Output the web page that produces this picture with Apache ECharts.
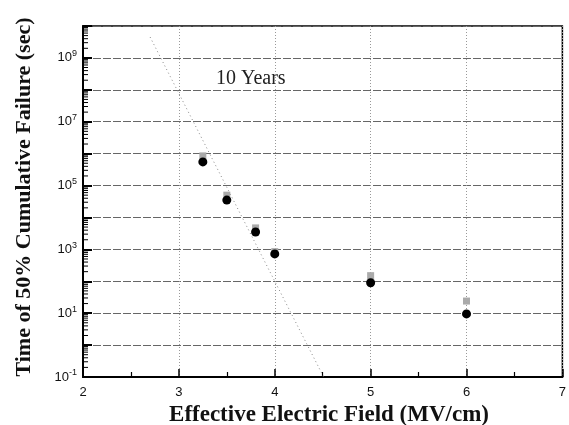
<!DOCTYPE html>
<html>
<head>
<meta charset="utf-8">
<script src="https://cdn.jsdelivr.net/npm/echarts@6/dist/echarts.min.js"></script>
<style>
  html, body { margin: 0; padding: 0; background: #fff; }
  #chart { width: 569px; height: 425px; }
</style>
</head>
<body>
<div id="chart"></div>
<script>
// Electric field (MV/cm) of each stress condition
var fields = [3.25, 3.5, 3.8, 4.0, 5.0, 6.0];
// Median time to failure (s), filled markers
var t50Black = [5.5e5, 3.5e4, 3.5e3, 7.2e2, 90, 9.5];
// Median time to failure (s), grey markers
var t50Grey = [8.5e5, 5.0e4, 4.7e3, 8.5e2, 150, 24];
// Extrapolation line end points [field, time]
var guideField = [2.70, 4.51];
var guideTime = [4.5e9, 0.1];
// Tick labels
var xTicks = [2, 3, 4, 5, 6, 7];
var yExponentsLabelled = [-1, 1, 3, 5, 7, 9];

var serif = '"Liberation Serif", "Times New Roman", serif';
var sans = '"Liberation Sans", Arial, sans-serif';

// the time axis is a decade scale: plot log10(seconds)
function lg(v) { return Math.log10(v); }
function zipLog(xs, ys) {
  return xs.map(function (x, i) { return [x, lg(ys[i])]; });
}

// left-axis minor ticks at 2..9 × each decade
var minorTickVals = [];
for (var d = -1; d <= 9; d++) {
  for (var m = 2; m <= 9; m++) minorTickVals.push([2, lg(m * Math.pow(10, d))]);
}

var chart = echarts.init(document.getElementById('chart'), null, { renderer: 'canvas' });

chart.setOption({
  backgroundColor: '#fff',
  animation: false,
  grid: {
    left: 83, right: 6, top: 26, bottom: 48,
    show: true, borderColor: '#000', borderWidth: 1.5, backgroundColor: 'transparent'
  },
  xAxis: {
    type: 'value', min: 2, max: 7, interval: 1,
    axisLine: { onZero: false, lineStyle: { color: '#000', width: 2 } },
    axisTick: { inside: true, length: 8, lineStyle: { color: '#000', width: 1.5 } },
    minorTick: { show: true, splitNumber: 2, length: 5, lineStyle: { color: '#000', width: 1.2 } },
    axisLabel: {
      margin: 9, fontFamily: sans, fontSize: 13, color: '#111',
      formatter: function (v) { return xTicks.indexOf(v) >= 0 ? String(v) : ''; }
    },
    splitLine: { show: true, lineStyle: { color: '#999', type: [1, 2], width: 1 } }
  },
  yAxis: {
    type: 'value', min: -1, max: 10, interval: 1,
    axisLine: { onZero: false, lineStyle: { color: '#000', width: 2 } },
    axisTick: { inside: true, length: 9, lineStyle: { color: '#000', width: 2 } },
    axisLabel: {
      margin: 6, fontFamily: sans, color: '#111',
      formatter: function (v) {
        if (yExponentsLabelled.indexOf(v) < 0) return '';
        return '{b|10}{s|' + v + '}';
      },
      rich: {
        b: { fontFamily: sans, fontSize: 13, color: '#111' },
        s: { fontFamily: sans, fontSize: 9, color: '#111', verticalAlign: 'bottom', padding: [0, 0, 8, 0] }
      }
    },
    splitLine: { show: true, lineStyle: { color: '#666', type: [8, 2], width: 1 } }
  },
  graphic: [
    {
      type: 'text', left: 216, top: 69,
      style: { text: '10 Years', fontFamily: serif, fontSize: 20, fill: '#222' }
    },
    {
      type: 'text', x: 329, y: 415,
      style: {
        text: 'Effective Electric Field (MV/cm)', fontFamily: serif, fontWeight: 'bold',
        fontSize: 23, fill: '#111', align: 'center', verticalAlign: 'middle'
      }
    },
    {
      type: 'text', x: 24, y: 197, rotation: Math.PI / 2,
      style: {
        text: 'Time of 50% Cumulative Failure (sec)', fontFamily: serif, fontWeight: 'bold',
        fontSize: 22, fill: '#111', align: 'center', verticalAlign: 'middle'
      }
    }
  ],
  series: [
    {
      type: 'custom', silent: true, z: 5,
      data: minorTickVals,
      renderItem: function (params, api) {
        var p = api.coord([api.value(0), api.value(1)]);
        return {
          type: 'line',
          shape: { x1: p[0], y1: p[1], x2: p[0] + 5, y2: p[1] },
          style: { stroke: '#000', lineWidth: 1 }
        };
      }
    },
    {
      type: 'line', silent: true, z: 3,
      data: zipLog(guideField, guideTime),
      symbol: 'none',
      lineStyle: { color: '#888', width: 1, type: [1, 3] }
    },
    {
      type: 'scatter', z: 4,
      data: zipLog(fields, t50Grey),
      symbol: 'rect', symbolSize: 7,
      itemStyle: { color: '#aaa', opacity: 1 }
    },
    {
      type: 'scatter', z: 6,
      data: zipLog(fields, t50Black),
      symbol: 'circle', symbolSize: 9,
      itemStyle: { color: '#000', opacity: 1 }
    }
  ]
});
</script>
</body>
</html>
